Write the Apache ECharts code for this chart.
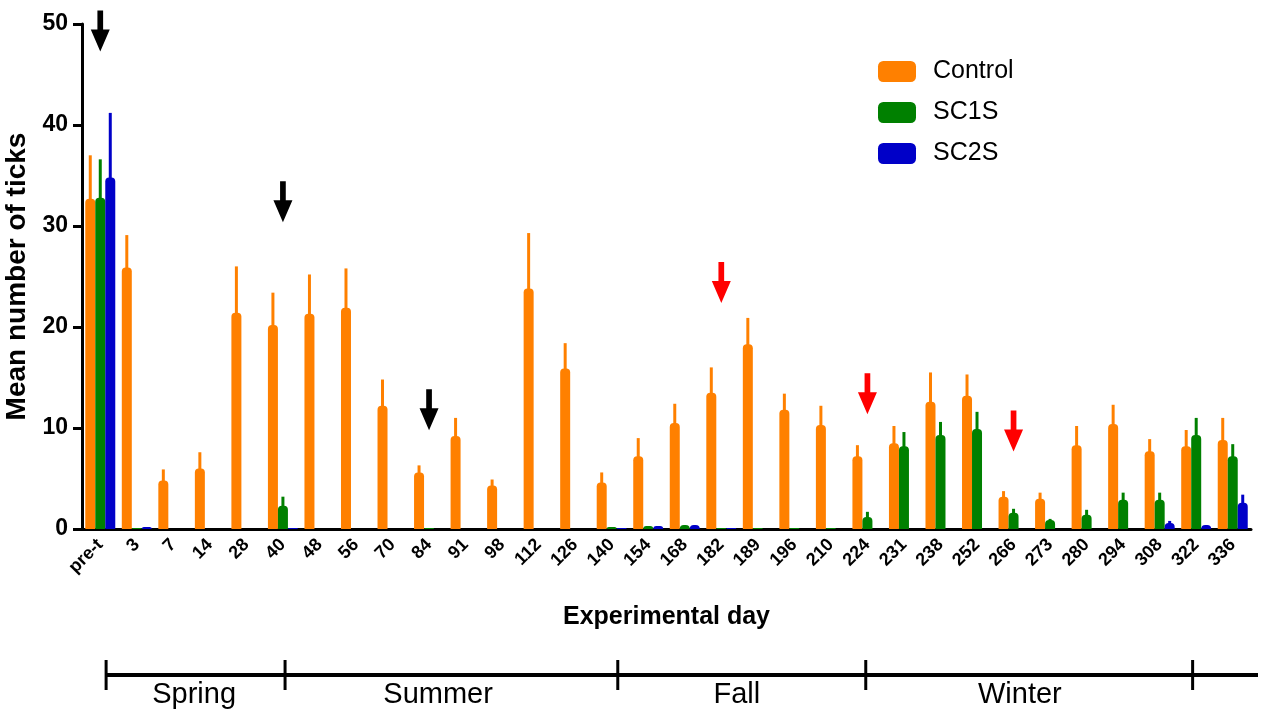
<!DOCTYPE html>
<html>
<head>
<meta charset="utf-8">
<script src="https://cdn.jsdelivr.net/npm/echarts@6/dist/echarts.min.js"></script>
<style>
  html, body { margin: 0; padding: 0; background: #fff; }
  #chart { width: 1264px; height: 712px; }
</style>
</head>
<body>
<div id="chart"></div>
<script>
const FONT = '"Liberation Sans", Arial, Helvetica, sans-serif'

const DAYS = ['pre-t', '3', '7', '14', '28', '40', '48', '56', '70', '84', '91', '98', '112', '126', '140',
  '154', '168', '182', '189', '196', '210', '224', '231', '238', '252', '266', '273', '280', '294', '308', '322', '336']

const CONTROL = [32.7, 25.9, 4.8, 6.0, 21.4, 20.2, 21.3, 21.9, 12.2, 5.6, 9.2, 4.3, 23.8, 15.9, 4.6,
  7.2, 10.5, 13.5, 18.3, 11.8, 10.3, 7.2, 8.5, 12.6, 13.2, 3.2, 3.0, 8.3, 10.4, 7.7, 8.2, 8.8]
const CONTROL_SEM = [4.3, 3.2, 1.1, 1.6, 4.6, 3.2, 3.9, 3.9, 2.6, 0.7, 1.8, 0.6, 5.5, 2.5, 1.0,
  1.8, 1.9, 2.5, 2.6, 1.6, 1.9, 1.1, 1.7, 2.9, 2.1, 0.55, 0.6, 1.9, 1.9, 1.2, 1.6, 2.2]

const SC1S = [32.8, 0.1, 0, 0, 0, 2.3, 0, 0, 0, 0.1, 0, 0, 0, 0, 0.2,
  0.3, 0.4, 0.1, 0.1, 0.1, 0.1, 1.2, 8.2, 9.3, 9.9, 1.6, 0.9, 1.4, 2.9, 2.9, 9.3, 7.2]
const SC1S_SEM = [3.8, 0, 0, 0, 0, 0.9, 0, 0, 0, 0, 0, 0, 0, 0, 0,
  0, 0, 0, 0, 0, 0, 0.5, 1.4, 1.3, 1.7, 0.4, 0.1, 0.5, 0.7, 0.7, 1.7, 1.2]

const SC2S = [34.8, 0.2, 0, 0, 0, 0.1, 0, 0, 0, 0, 0, 0, 0, 0, 0.1,
  0.3, 0.4, 0.1, 0, 0, 0, 0, 0, 0, 0, 0, 0, 0, 0, 0.6, 0.4, 2.6]
const SC2S_SEM = [6.4, 0, 0, 0, 0, 0, 0, 0, 0, 0, 0, 0, 0, 0, 0,
  0, 0, 0, 0, 0, 0, 0, 0, 0, 0, 0, 0, 0, 0, 0.2, 0, 0.8]

// treatment arrows: day, level (arrow centre), kind
const ARROW_DAYS = ['pre-t', '40', '84', '182', '224', '266']
const ARROW_LEVELS = [49.3, 32.4, 11.8, 24.4, 13.4, 9.7]
const ARROW_KIND = ['black', 'black', 'black', 'red', 'red', 'red']

// season strip, in day-slot units (slot i spans i..i+1)
const SEASON_EDGES = [0.66, 5.56, 14.67, 21.46, 30.41]
const SEASON_LINE_END = 32.2
const SEASON_NAMES = ['Spring', 'Summer', 'Fall', 'Winter']
const SEASON_CENTERS = [3.07, 9.75, 17.93, 25.68]

const COLORS = { Control: '#ff8000', SC1S: '#008000', SC2S: '#0000c8' }
const ARROW_PATH = 'path://M7,0L13,0L13,19L20,19L10,41L0,19L7,19Z'

function barSeries(name, values) {
  return {
    name,
    type: 'bar',
    xAxisIndex: 0,
    yAxisIndex: 0,
    barWidth: 10,
    barGap: '0%',
    data: values,
    itemStyle: { color: COLORS[name], borderRadius: [4, 4, 0, 0] },
    z: 3
  }
}

function errorSeries(name, values, sems, offset) {
  return {
    name: name + ' SEM',
    type: 'custom',
    xAxisIndex: 0,
    yAxisIndex: 0,
    silent: true,
    encode: { x: 0, y: [1, 2] },
    data: values.map((v, i) => [i, v, v + sems[i]]),
    renderItem(params, api) {
      if (api.value(2) <= api.value(1)) {
        return null
      }
      const base = api.coord([api.value(0), api.value(1)])
      const top = api.coord([api.value(0), api.value(2)])
      return {
        type: 'rect',
        shape: { x: base[0] + offset - 1.5, y: top[1], width: 3, height: base[1] - top[1] + 2 },
        style: { fill: COLORS[name] }
      }
    },
    z: 2
  }
}

const chart = echarts.init(document.getElementById('chart'), null, { renderer: 'canvas' })

chart.setOption({
  animation: false,
  textStyle: { fontFamily: FONT, color: '#000' },
  legend: {
    data: ['Control', 'SC1S', 'SC2S'],
    orient: 'vertical',
    left: 878,
    top: 59,
    padding: 0,
    itemWidth: 38,
    itemHeight: 21,
    itemGap: 16,
    icon: 'roundRect',
    selectedMode: false,
    textStyle: { fontFamily: FONT, fontSize: 25, color: '#000', lineHeight: 21, padding: [0, 0, 0, 12] }
  },
  grid: [
    { left: 82, right: 13, top: 24, bottom: 183, containLabel: false, outerBoundsMode: 'none' },
    { left: 82, right: 6, top: 655, height: 40, containLabel: false, outerBoundsMode: 'none' }
  ],
  xAxis: [
    {
      type: 'category',
      gridIndex: 0,
      data: DAYS,
      name: 'Experimental day',
      nameLocation: 'middle',
      nameGap: 76,
      nameTextStyle: { fontFamily: FONT, fontSize: 25, fontWeight: 'bold', color: '#000' },
      axisLine: { lineStyle: { color: '#000', width: 3 } },
      axisTick: { alignWithLabel: true, length: 8, lineStyle: { color: '#000', width: 3 } },
      axisLabel: { rotate: 45, margin: 13, fontFamily: FONT, fontSize: 18, fontWeight: 'bold', color: '#000', interval: 0 },
      splitLine: { show: false }
    },
    {
      type: 'value',
      gridIndex: 1,
      min: 0,
      max: SEASON_LINE_END,
      show: false
    }
  ],
  yAxis: [
    {
      type: 'value',
      gridIndex: 0,
      min: 0,
      max: 50,
      interval: 10,
      name: 'Mean number of ticks',
      nameLocation: 'middle',
      nameRotate: 90,
      nameGap: 46,
      nameTextStyle: { fontFamily: FONT, fontSize: 28, fontWeight: 'bold', color: '#000' },
      axisLine: { show: true, lineStyle: { color: '#000', width: 3 } },
      axisTick: { show: true, length: 9, lineStyle: { color: '#000', width: 3 } },
      axisLabel: { margin: 14, fontFamily: FONT, fontSize: 23, fontWeight: 'bold', color: '#000' },
      splitLine: { show: false }
    },
    {
      type: 'value',
      gridIndex: 1,
      min: 0,
      max: 1,
      show: false
    }
  ],
  series: [
    errorSeries('Control', CONTROL, CONTROL_SEM, -10),
    errorSeries('SC1S', SC1S, SC1S_SEM, 0),
    errorSeries('SC2S', SC2S, SC2S_SEM, 10),
    barSeries('Control', CONTROL),
    barSeries('SC1S', SC1S),
    barSeries('SC2S', SC2S),
    {
      name: 'arrows',
      type: 'scatter',
      xAxisIndex: 0,
      yAxisIndex: 0,
      silent: true,
      symbol: ARROW_PATH,
      symbolSize: [19, 41],
      data: ARROW_DAYS.map((d, i) => ({
        value: [d, ARROW_LEVELS[i]],
        itemStyle: { color: ARROW_KIND[i] === 'red' ? '#ff0000' : '#000000', opacity: 1 }
      })),
      z: 5
    },
    {
      name: 'season line',
      type: 'line',
      xAxisIndex: 1,
      yAxisIndex: 1,
      silent: true,
      symbol: 'none',
      lineStyle: { color: '#000', width: 4 },
      data: [[SEASON_EDGES[0], 0.5], [SEASON_LINE_END, 0.5]]
    },
    {
      name: 'season edges',
      type: 'scatter',
      xAxisIndex: 1,
      yAxisIndex: 1,
      silent: true,
      symbol: 'rect',
      symbolSize: [3, 30],
      itemStyle: { color: '#000', opacity: 1 },
      data: SEASON_EDGES.map(x => [x, 0.5])
    },
    {
      name: 'season names',
      type: 'scatter',
      xAxisIndex: 1,
      yAxisIndex: 1,
      silent: true,
      symbolSize: 0,
      itemStyle: { opacity: 1 },
      data: SEASON_CENTERS.map((x, i) => ({ value: [x, 0], name: SEASON_NAMES[i] })),
      label: {
        show: true,
        position: 'inside',
        formatter: p => p.name,
        fontFamily: FONT,
        fontSize: 29,
        color: '#000',
        opacity: 1
      }
    }
  ]
})
</script>
</body>
</html>
